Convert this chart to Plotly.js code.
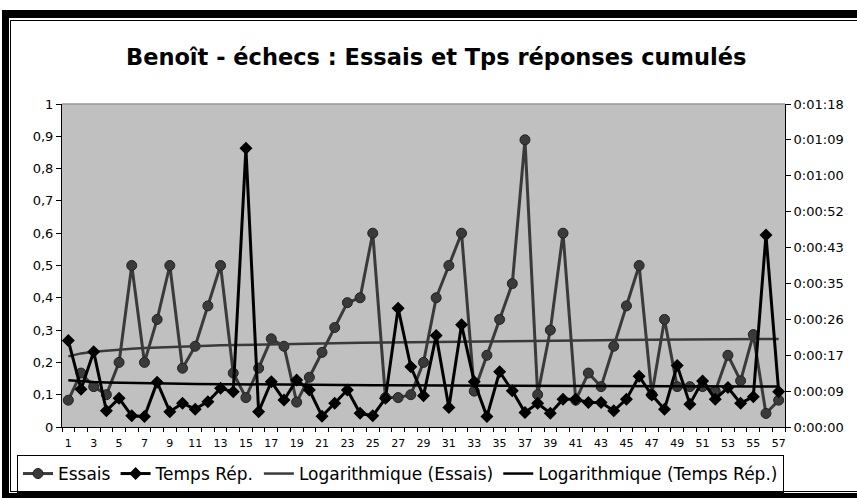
<!DOCTYPE html>
<html>
<head>
<meta charset="utf-8">
<script src="https://cdn.plot.ly/plotly-3.0.1.min.js"></script>
<style>
  html, body { margin: 0; padding: 0; background: #ffffff; }
  #wrap { position: relative; width: 857px; height: 498px; overflow: hidden; }
  #chart { position: absolute; left: 0; top: 0; width: 857px; height: 498px; }
  .frame { position: absolute; background: #000; pointer-events: none; }
</style>
</head>
<body>
<div id="wrap">
  <div id="chart"></div>
  <div class="frame" style="left:2px; top:10px; width:7px; height:488px;"></div>
  <div class="frame" style="left:2px; top:10px; width:855px; height:8px;"></div>
  <div class="frame" style="left:2px; top:493px; width:855px; height:5px;"></div>
  <div class="frame" style="left:10px; top:20px; width:1px; height:472px;"></div>
  <div class="frame" style="left:10px; top:20px; width:847px; height:1px;"></div>
  <div class="frame" style="left:10px; top:491px; width:847px; height:1px;"></div>
</div>
<script>
// Session numbers (categories 1..57)
const sessions = [];
for (let i = 1; i <= 57; i++) sessions.push(i);

// Essais (left axis, ratio)
const essais = [
  0.083, 0.167, 0.125, 0.1, 0.2, 0.5, 0.2, 0.333, 0.5, 0.182,
  0.25, 0.375, 0.5, 0.167, 0.091, 0.182, 0.273, 0.25, 0.077, 0.154,
  0.231, 0.308, 0.385, 0.4, 0.6, 0.091, 0.091, 0.1, 0.2, 0.4,
  0.5, 0.6, 0.111, 0.222, 0.333, 0.444, 0.889, 0.1, 0.3, 0.6,
  0.083, 0.167, 0.125, 0.25, 0.375, 0.5, 0.1, 0.333, 0.125, 0.125,
  0.125, 0.111, 0.222, 0.143, 0.286, 0.042, 0.083
];

// Temps Rép. (right axis, seconds)
const tempsRep = [
  20.8, 9.1, 18.1, 3.9, 6.9, 2.7, 2.5, 10.8, 3.7, 5.7,
  4.3, 6.1, 9.3, 8.5, 67.1, 3.7, 10.9, 6.5, 11.3, 8.9,
  2.6, 5.7, 8.9, 3.3, 2.7, 6.9, 28.6, 14.5, 7.5, 22.0,
  4.7, 24.6, 10.9, 2.5, 13.3, 8.7, 3.5, 5.7, 3.3, 6.7,
  6.7, 5.9, 5.9, 3.9, 6.7, 12.2, 7.7, 4.3, 14.8, 5.5,
  11.1, 6.7, 9.5, 5.7, 7.3, 46.2, 8.5
];

// Axis tick labels
const xTickVals = sessions.filter(function (v) { return v % 2 === 1; });
const rightTickText = ["0:00:00", "0:00:09", "0:00:17", "0:00:26", "0:00:35",
                       "0:00:43", "0:00:52", "0:01:00", "0:01:09", "0:01:18"];
const legendNames = ["Essais", "Temps Rép.", "Logarithmique (Essais)", "Logarithmique (Temps Rép.)"];
const titleText = "Benoît - échecs : Essais et Tps réponses cumulés";

// Right axis: Excel time steps of 0.0001 day = 8.64 s
const rightTickVals = rightTickText.map(function (_, i) { return i * 8.64; });

// Logarithmic least-squares trend (as Excel's "Logarithmique" trendline)
function logFit(xs, ys) {
  const n = xs.length;
  let sx = 0, sy = 0, sxx = 0, sxy = 0;
  for (let i = 0; i < n; i++) {
    const lx = Math.log(xs[i]);
    sx += lx; sy += ys[i]; sxx += lx * lx; sxy += lx * ys[i];
  }
  const a = (n * sxy - sx * sy) / (n * sxx - sx * sx);
  const b = (sy - a * sx) / n;
  return xs.map(function (x) { return a * Math.log(x) + b; });
}
const trendEssais = logFit(sessions, essais);
const trendTemps = logFit(sessions, tempsRep);

const FONT = "DejaVu Sans, Arial, sans-serif";
const gray = "#3a3a3a";

const traces = [
  {
    x: sessions, y: essais, name: legendNames[0], type: "scatter", mode: "lines+markers",
    line: { color: gray, width: 3 },
    marker: { symbol: "circle", size: 10, color: gray, line: { color: "#222", width: 1 } },
    yaxis: "y"
  },
  {
    x: sessions, y: tempsRep, name: legendNames[1], type: "scatter", mode: "lines+markers",
    line: { color: "#000", width: 3 },
    marker: { symbol: "diamond", size: 10, color: "#000" },
    yaxis: "y2"
  },
  {
    x: sessions, y: trendEssais, name: legendNames[2], type: "scatter", mode: "lines",
    line: { color: gray, width: 2.5 }, yaxis: "y"
  },
  {
    x: sessions, y: trendTemps, name: legendNames[3], type: "scatter", mode: "lines",
    line: { color: "#000", width: 2.5 }, yaxis: "y2"
  }
];

const layout = {
  width: 857, height: 498,
  margin: { l: 62, r: 72, t: 104, b: 71, pad: 0, autoexpand: false },
  paper_bgcolor: "rgba(0,0,0,0)",
  plot_bgcolor: "#C0C0C0",
  separators: ", ",
  font: { family: FONT, color: "#000", size: 13 },
  showlegend: true,
  title: {
    text: titleText,
    font: { family: FONT, size: 22.5, weight: "bold", color: "#000" },
    xref: "container", x: 0.509, xanchor: "center",
    yref: "container", y: 1 - 57 / 498, yanchor: "middle"
  },
  xaxis: {
    range: [0.5, 57.5],
    tickmode: "array", tickvals: xTickVals,
    ticks: "", showgrid: false, zeroline: false,
    showline: true, linecolor: "#000", linewidth: 1,
    tickfont: { family: FONT, size: 11 },
    ticklabelstandoff: 6,
    minor: { tick0: 0.5, dtick: 1, ticks: "outside", ticklen: 4, tickcolor: "#000", tickwidth: 1, showgrid: false }
  },
  yaxis: {
    range: [0, 1], dtick: 0.1, tick0: 0,
    ticks: "outside", ticklen: 5, tickcolor: "#000",
    showgrid: false, zeroline: false,
    showline: true, linecolor: "#000", linewidth: 1,
    tickfont: { family: FONT, size: 13 }
  },
  yaxis2: {
    overlaying: "y", side: "right",
    range: [0, 77.76],
    tickmode: "array", tickvals: rightTickVals, ticktext: rightTickText,
    ticks: "outside", ticklen: 5, tickcolor: "#000",
    showgrid: false, zeroline: false,
    showline: true, linecolor: "#000", linewidth: 1,
    tickfont: { family: FONT, size: 13 }
  },
  shapes: [
    { type: "line", xref: "paper", yref: "paper", x0: 0, x1: 1, y0: 1, y1: 1,
      line: { color: "#999", width: 1.5 } }
  ],
  legend: {
    orientation: "h",
    xref: "paper", x: (17 - 62) / 723, xanchor: "left",
    yref: "paper", y: -(455 - 427) / 323, yanchor: "top",
    bgcolor: "#fff", bordercolor: "#000", borderwidth: 1,
    font: { family: FONT, size: 17, color: "#000" },
    itemwidth: 30, traceorder: "normal"
  }
};

Plotly.newPlot("chart", traces, layout, { displayModeBar: false, staticPlot: true });
</script>
</body>
</html>
